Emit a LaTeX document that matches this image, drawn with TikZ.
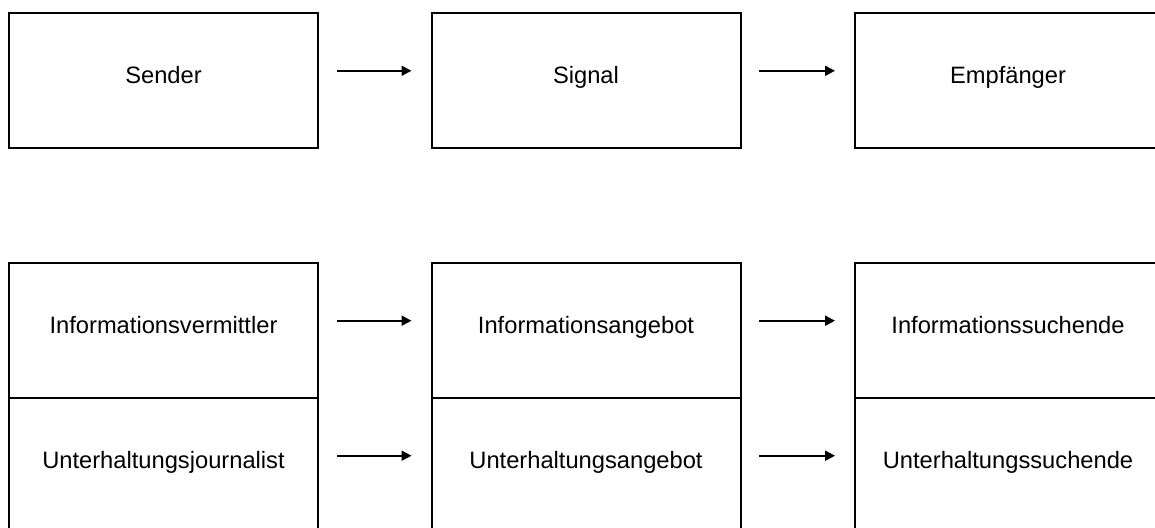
\documentclass[tikz,border=0pt]{standalone}
\usepackage{fontspec}
\setmainfont{Liberation Sans}
\usetikzlibrary{arrows.meta}

\tikzset{
  cell/.style={draw=black, line width=2pt, fill=white, minimum width=309pt,
               minimum height=135pt, inner sep=0pt, outer sep=0pt},
  lbl/.style={font=\fontsize{23.7}{28}\selectfont, text=black, inner sep=0pt, anchor=base},
  flow/.style={draw=black, line width=2pt,
               -{Triangle[length=10pt, width=10pt]},
               shorten <=19pt, shorten >=20pt}
}

\begin{document}
\begin{tikzpicture}[x=1pt, y=-1pt]
  \useasboundingbox (0,0) rectangle (1155,527);
  \clip (0,0) rectangle (1155,527);
  \fill[white] (0,0) rectangle (1155,527);

  % Model row
  \node[cell] (sender) at (163.5,80.5) {};
  \node[cell] (signal) at (586,80.5) {};
  \node[cell] (empf)   at (1009.5,80.5) {};

  % Media row, information layer
  \node[cell] (ivm) at (163.5,330) {};
  \node[cell] (ian) at (586,330) {};
  \node[cell] (isu) at (1009.5,330) {};

  % Media row, entertainment layer
  \node[cell] (ujo) at (163.5,465) {};
  \node[cell] (uan) at (586,465) {};
  \node[cell] (usu) at (1009.5,465) {};

  % Labels
  \node[lbl] (l1) at (163.5,83.5)  {Sender};
  \node[lbl] (l2) at (586,83.5)    {Signal};
  \node[lbl] (l3) at (1008,83.5)   {Empfänger};
  \node[lbl] (l4) at (163.5,333.5) {Informationsvermittler};
  \node[lbl] (l5) at (586,333.5)   {Informationsangebot};
  \node[lbl] (l6) at (1008,333.5)  {Informationssuchende};
  \node[lbl] (l7) at (163.5,468.5) {Unterhaltungsjournalist};
  \node[lbl] (l8) at (586,468.5)   {Unterhaltungsangebot};
  \node[lbl] (l9) at (1008,468.5)  {Unterhaltungssuchende};

  % Flow arrows
  \draw[flow] ([yshift=9.7pt]sender.east) -- ([yshift=9.7pt]signal.west);
  \draw[flow, shorten <=18.5pt] ([yshift=9.7pt]signal.east) -- ([yshift=9.7pt]empf.west);
  \draw[flow] ([yshift=9.3pt]ivm.east) -- ([yshift=9.3pt]ian.west);
  \draw[flow, shorten <=18.5pt] ([yshift=9.3pt]ian.east) -- ([yshift=9.3pt]isu.west);
  \draw[flow] ([yshift=9.3pt]ujo.east) -- ([yshift=9.3pt]uan.west);
  \draw[flow, shorten <=18.5pt] ([yshift=9.3pt]uan.east) -- ([yshift=9.3pt]usu.west);
\end{tikzpicture}
\end{document}
